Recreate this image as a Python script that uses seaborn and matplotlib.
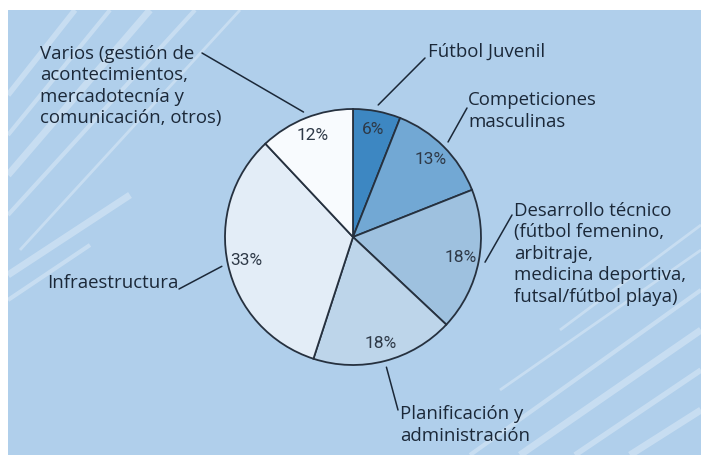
import numpy as np
import matplotlib
matplotlib.use("Agg")
import matplotlib.pyplot as plt
import seaborn as sns

# datos del gráfico
labels = [
    "Fútbol Juvenil",
    "Competiciones\nmasculinas",
    "Desarrollo técnico\n(fútbol femenino,\narbitraje,\nmedicina deportiva,\nfutsal/fútbol playa)",
    "Planificación y\nadministración",
    "Infraestructura",
    "Varios (gestión de\nacontecimientos,\nmercadotecnía y\ncomunicación, otros)",
]
shares = [6, 13, 18, 18, 33, 12]
slice_colors = ["#3d87c2", "#72a8d4", "#9ec1df", "#bdd5ea", "#e3edf7", "#f8fbfe"]

sns.set_theme(style="white")
plt.rcParams["font.family"] = ["Open Sans", "DejaVu Sans"]

W, H = 701, 455
CX, CY, R = 353, 237, 128
BG = "#b0cfeb"
INK = "#1b2838"


def P(px, py):
    # pixel de la imagen -> unidades del pastel
    return (px - CX) / R, (CY - py) / R


fig = plt.figure(figsize=(W / 100, H / 100), dpi=100)
fig.patch.set_facecolor("white")

# panel de fondo con rayas
bg = fig.add_axes([8 / W, 0, 1 - 8 / W, (H - 10) / H])
bg.set_facecolor(BG)
bg.set_xlim(8, W)
bg.set_ylim(H, 10)
bg.set_axis_off()
bg.add_patch(plt.Rectangle((8, 10), W, H, color=BG, zorder=0))
stripes = [
    ((8, 95), (75, 10), 4), ((8, 135), (110, 10), 3), ((8, 175), (150, 10), 5),
    ((8, 215), (195, 10), 3), ((20, 250), (240, 10), 2), ((8, 275), (130, 195), 5),
    ((8, 300), (90, 245), 3),
    ((470, 455), (701, 290), 3), ((520, 455), (701, 330), 5), ((575, 455), (701, 370), 4),
    ((630, 455), (701, 410), 5), ((500, 390), (701, 250), 2), ((560, 330), (701, 225), 2),
]
for (x0, y0), (x1, y1), lw in stripes:
    bg.plot([x0, x1], [y0, y1], color="white", lw=lw, alpha=0.3,
            solid_capstyle="butt", zorder=1)

ax = fig.add_axes([0, 0, 1, 1])
ax.patch.set_alpha(0)
wedges, _, pcts = ax.pie(
    shares,
    colors=sns.color_palette(slice_colors),
    startangle=90,
    counterclock=False,
    autopct="%d%%",
    pctdistance=0.855,
    radius=1,
    wedgeprops=dict(edgecolor="#26313f", linewidth=1.3),
    textprops=dict(color="#2e3947", fontsize=12.5,
                   family=["Roboto", "DejaVu Sans"]),
)
ax.set_xlim(P(0, 0)[0], P(W, 0)[0])
ax.set_ylim(P(0, H)[1], P(0, 0)[1])
ax.set_aspect("auto")

# posiciones de las etiquetas (px): borde izq., centro vertical, fin de la línea guía
label_pos = [
    ((428, 52), (425, 58)),
    ((468, 111), (467, 108)),
    ((514, 254), (512, 215)),
    ((400, 425), (398, 410)),
    ((47, 283), (179, 289)),
    ((40, 86), (202, 53)),
]
for w, lab, ((tx, ty), (lx, ly)) in zip(wedges, labels, label_pos):
    mid = np.deg2rad((w.theta1 + w.theta2) / 2)
    sx, sy = 1.05 * np.cos(mid), 1.05 * np.sin(mid)
    ex, ey = P(lx, ly)
    ax.plot([sx, ex], [sy, ey], color=INK, lw=1.1)
    x, y = P(tx, ty)
    ax.text(x, y, lab, ha="left", va="center", fontsize=13.4, color=INK,
            linespacing=1.25)

fig.savefig("out.png", dpi=100, facecolor="white")
